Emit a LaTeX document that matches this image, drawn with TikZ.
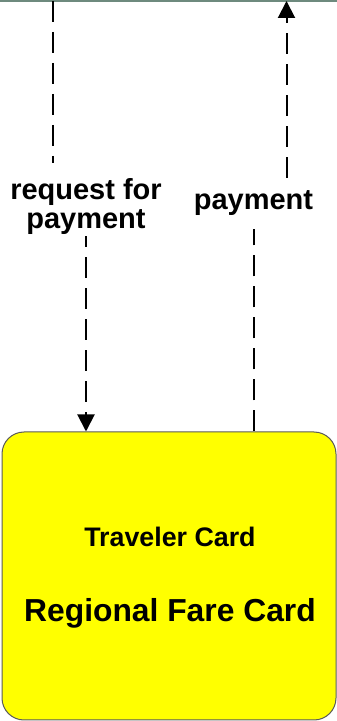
\documentclass[tikz,border=0pt]{standalone}
\usepackage{fontspec}
\setmainfont{Liberation Sans}
\usetikzlibrary{arrows.meta}
\definecolor{boxyellow}{HTML}{FFFF00}
\definecolor{edgegray}{HTML}{5A5A5A}
\definecolor{topgreen}{HTML}{6E8A7E}
\begin{document}
\begin{tikzpicture}[x=1pt,y=1pt,
 flow/.style={line width=2pt, dash pattern=on 21pt off 10pt},
 tip/.style={-{Triangle[width=17pt,length=17pt]}},
 lbl/.style={font=\fontsize{29}{29}\selectfont\bfseries, align=center, inner sep=0pt},
 cardbox/.style={draw=edgegray, line width=1pt, fill=boxyellow, rounded corners=22pt, minimum width=334pt, minimum height=288pt, inner sep=0pt}]
\useasboundingbox (0,0) rectangle (337,721);
\coordinate (tl) at (0,720);
\coordinate (tr) at (337,720);
\draw[topgreen, line width=1.5pt] (tl) -- (tr);
\coordinate (t1) at (53,720);
\coordinate (t2) at (286.5,720);
\node[cardbox] (box) at (169,145) {};
\node[font=\fontsize{26.8}{30}\selectfont\bfseries, anchor=base] (tc) at (170,174) {Traveler Card};
\node[font=\fontsize{31.8}{36}\selectfont\bfseries, anchor=base] (rfc) at (170,99) {Regional Fare Card};
\node[lbl, anchor=north] (lab1) at (86,543) {request for\\payment};
\node[lbl, anchor=base] (lab2) at (253.5,511) {payment};
\draw[flow, shorten >=15pt] (t1) -- (t1 |- lab1.north);
\draw[flow, tip, dash phase=10pt, shorten <=2pt] (lab1.south) -- (lab1.south |- box.north);
\draw[flow, shorten >=13pt] (box.north -| lab2) -- (lab2.south);
\draw[flow, tip, shorten <=13pt] (lab2.north -| t2) -- (t2);
\end{tikzpicture}
\end{document}
